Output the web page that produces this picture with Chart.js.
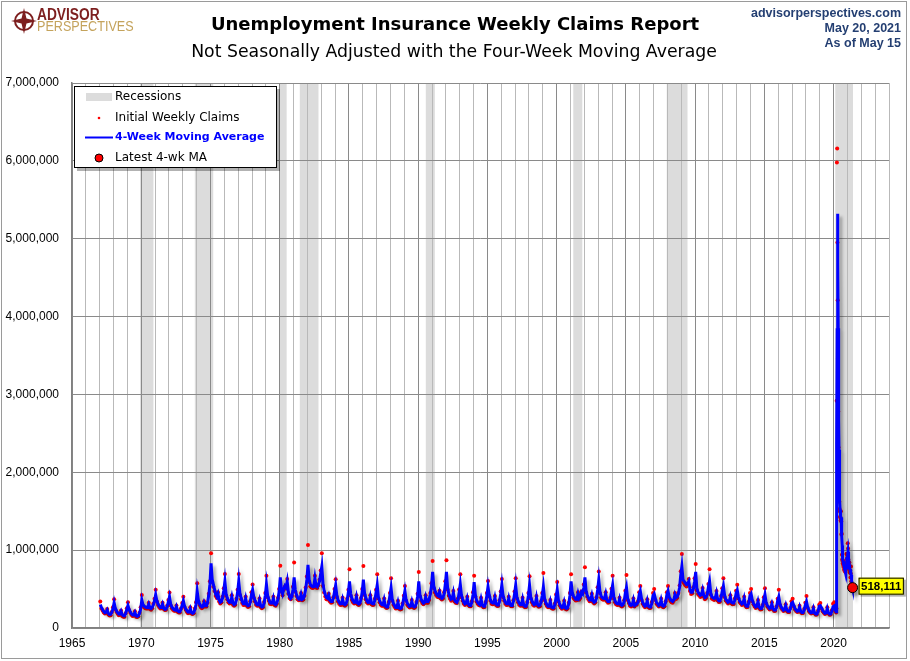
<!DOCTYPE html>
<html>
<head>
<meta charset="utf-8">
<script src="https://cdn.jsdelivr.net/npm/chart.js@4/dist/chart.umd.min.js"></script>
<style>
  body { margin: 0; background: #fff; }
  canvas { display: block; }
</style>
</head>
<body>
<canvas id="claims" width="910" height="661"></canvas>
<script>
// monthly values (thousands), Jan 1967 .. Feb 2020
const firstYear = 1967;
const maMonthly = [
  300,265,235,212,198,205,232,188,175,176,200,248,
  325,255,222,198,180,182,214,170,156,156,186,238,
  290,238,206,182,168,170,202,158,150,158,188,245,
  360,300,280,270,264,262,305,260,250,264,298,350,
  430,352,308,284,265,266,308,258,240,244,274,335,
  400,308,270,250,234,230,274,224,210,210,240,298,
  350,282,246,222,204,204,248,198,190,198,236,305,
  470,358,310,286,270,276,328,290,286,330,420,560,
  830,625,560,500,432,402,440,362,330,340,388,478,
  600,440,388,350,330,332,398,320,300,310,360,458,
  600,448,388,340,310,310,378,300,285,290,330,428,
  490,400,356,318,300,300,358,285,270,276,320,418,
  560,418,370,330,320,322,380,310,300,320,370,468,
  650,490,440,500,540,520,598,460,400,380,400,498,
  650,488,430,390,370,372,430,370,380,420,500,618,
  810,620,560,540,530,532,640,540,530,560,600,700,
  790,570,480,430,390,380,420,360,340,340,380,468,
  550,420,360,330,310,312,370,310,300,310,360,458,
  600,440,380,350,330,332,400,320,310,320,370,468,
  620,450,390,350,330,332,400,320,310,310,360,458,
  550,400,350,320,300,296,360,285,270,270,320,418,
  515,370,320,290,265,266,330,260,250,255,300,388,
  475,365,320,295,275,280,340,280,270,280,320,408,
  600,430,370,340,320,330,398,340,340,370,430,538,
  720,540,480,450,420,410,460,400,380,390,440,558,
  720,520,440,400,370,380,450,360,340,330,360,458,
  560,420,370,330,310,320,380,310,290,290,330,428,
  590,430,360,330,310,300,370,300,280,280,320,418,
  530,428,370,330,320,320,390,310,295,295,340,438,
  555,420,370,330,310,310,380,310,290,290,340,438,
  550,400,350,320,300,300,370,295,280,280,320,418,
  550,400,350,320,300,310,390,300,285,290,330,418,
  530,380,330,300,280,280,340,270,260,260,300,398,
  490,360,310,280,260,270,330,260,250,260,310,418,
  600,460,410,390,370,370,440,380,400,460,440,518,
  650,480,420,390,360,360,420,350,330,340,380,488,
  620,470,410,390,380,380,440,360,340,340,370,468,
  550,400,350,320,310,310,370,300,290,300,340,448,
  520,380,340,300,290,300,360,290,300,310,330,428,
  475,380,330,300,280,290,350,280,270,270,320,418,
  440,380,330,310,290,300,360,290,280,290,330,428,
  475,400,370,350,340,360,430,390,400,440,520,678,
  790,620,600,580,560,570,600,500,460,460,500,598,
  720,510,460,440,420,430,490,420,390,400,430,528,
  600,450,400,390,380,390,450,370,350,350,390,478,
  540,420,370,350,330,340,400,330,320,320,360,448,
  485,400,350,330,310,320,380,300,280,280,320,418,
  440,360,320,290,270,280,340,270,250,250,280,368,
  430,330,290,270,250,260,310,250,230,230,260,348,
  400,310,270,250,230,240,290,230,215,215,245,318,
  330,290,250,230,215,220,270,215,200,200,230,298,
  340,270,230,210,195,200,250,195,180,180,210,278,
  285,260,225,205,190,195,250,195,180,180,215,275,
  285,230
];
const claimsMonthly = [
  340,250,225,200,185,195,245,175,160,165,205,265,
  370,240,210,185,165,170,225,155,145,145,190,255,
  330,230,195,170,155,160,215,145,140,150,195,265,
  425,285,265,255,250,250,325,245,235,255,310,375,
  490,340,295,270,250,255,325,245,230,235,285,360,
  455,290,255,235,220,220,290,210,200,200,250,320,
  400,270,235,210,190,195,265,185,180,190,250,330,
  575,340,295,270,255,265,345,275,275,325,440,600,
  960,590,530,475,410,385,460,340,315,330,400,510,
  695,415,370,330,315,320,420,300,285,300,375,490,
  695,425,370,320,295,300,400,285,270,280,345,460,
  560,390,340,300,285,290,380,270,255,265,335,450,
  670,395,350,310,305,310,400,295,285,310,385,500,
  800,465,420,490,530,510,630,440,385,370,415,530,
  840,465,410,370,355,360,450,355,365,415,520,660,
  1065,590,535,520,515,520,670,520,515,550,620,740,
  960,540,455,405,370,365,440,340,325,330,395,500,
  626,395,340,310,295,300,390,295,285,300,375,490,
  754,415,360,330,315,320,420,305,295,310,385,500,
  797,425,370,330,315,320,420,305,295,300,375,490,
  690,380,330,300,285,285,380,270,258,262,335,450,
  640,350,300,272,252,255,350,248,238,245,315,415,
  540,350,300,278,262,270,360,265,258,270,335,440,
  720,405,350,320,305,320,420,325,325,360,450,575,
  860,510,455,425,400,395,480,380,365,380,460,600,
  870,490,415,375,350,365,475,340,325,320,380,495,
  690,395,350,310,295,310,400,295,278,280,345,460,
  670,405,340,310,295,290,390,285,268,270,335,450,
  605,405,350,310,305,310,410,295,282,285,355,470,
  630,395,350,310,295,300,400,295,278,280,355,470,
  640,380,330,300,285,290,390,280,268,270,335,450,
  665,380,330,300,285,300,410,285,272,280,345,450,
  707,360,310,282,265,270,360,257,248,250,315,430,
  592,340,292,263,247,260,350,247,238,250,325,450,
  690,435,390,370,352,358,460,362,385,470,460,560,
  780,455,400,370,343,348,440,333,315,330,395,525,
  725,445,390,370,362,368,460,343,325,330,385,505,
  670,380,332,304,295,300,390,285,276,290,355,480,
  680,360,322,285,276,290,380,276,310,300,345,460,
  540,360,313,285,266,280,370,266,257,260,335,450,
  500,360,313,294,276,290,380,276,266,280,345,460,
  540,380,350,332,323,350,450,372,390,450,545,730,
  950,590,570,550,532,555,630,475,437,445,525,640,
  822,485,437,418,399,418,515,399,370,385,450,565,
  755,428,380,370,361,378,475,352,333,338,410,510,
  640,399,352,333,314,330,420,314,304,308,378,480,
  555,380,333,314,295,310,400,285,266,270,336,450,
  500,342,304,276,257,270,360,257,238,240,295,395,
  510,314,276,257,238,250,330,238,219,222,275,375,
  490,295,257,238,219,232,305,219,204,207,258,345,
  375,276,238,219,204,212,285,204,190,193,243,325,
  410,257,219,200,185,193,265,185,171,174,222,300,
  320,247,214,195,181,188,265,185,171,174,227,310,
  330,215
];

// weekly values (thousands), week ending Mar 7 2020 .. May 15 2021
const firstWeek = 2020.18;
const claimsWeekly = [
  200,251,2920,5980,6160,4950,4210,3460,2780,2320,2150,1900,1620,1530,1500,1430,
  1420,1380,1500,1370,1200,1210,940,880,860,830,870,800,830,780,750,820,
  740,730,740,720,750,830,790,950,950,890,850,920,1090,1020,880,830,
  800,750,840,720,710,740,650,700,790,600,570,530,480,480,505
];
const maWeekly = [
  210,225,900,2340,3830,5000,5320,4700,3850,3190,2680,2290,2000,1800,1640,1520,
  1470,1430,1430,1420,1360,1320,1180,1060,970,880,860,840,830,820,790,800,
  770,760,760,730,740,760,770,830,880,900,910,910,940,980,980,960,
  900,820,800,780,760,750,710,700,720,680,650,620,540,520,518.111
];

const recessions = [
  [1969.92, 1970.88], [1973.87, 1975.2], [1979.95, 1980.5], [1981.45, 1982.8],
  [1990.55, 1991.2], [2001.2, 2001.85], [2007.95, 2009.45], [2020.12, 2021.4]
];

const FONT = '"DejaVu Sans", sans-serif';
const ARIAL = '"Liberation Sans", Arial, sans-serif';

function monthPoints(vals) {
  return vals.map((v, i) => ({ x: firstYear + (i + 0.5) / 12, y: v * 1000 }));
}
function weekPoints(vals) {
  return vals.map((v, i) => ({ x: firstWeek + i * 7 / 365.25, y: Math.round(v * 1000) }));
}

const maPts = monthPoints(maMonthly).concat(weekPoints(maWeekly));
const claimPts = monthPoints(claimsMonthly).concat(weekPoints(claimsWeekly));
const latest = maPts[maPts.length - 1];

const shading = {
  id: 'shading',
  beforeDraw(chart) {
    const { ctx, chartArea: a, scales: { x } } = chart;
    ctx.save();
    ctx.fillStyle = '#dcdcdc';
    recessions.forEach(([s, e]) => {
      const x0 = x.getPixelForValue(s), x1 = x.getPixelForValue(e);
      ctx.fillRect(x0, a.top, x1 - x0, a.bottom - a.top);
    });
    ctx.restore();
  },
  beforeDatasetDraw(chart, args) {
    if (args.index > 1) return;
    const ctx = chart.ctx;
    ctx.save();
    ctx.shadowColor = 'rgba(0,0,0,0.3)';
    ctx.shadowOffsetX = 3;
    ctx.shadowOffsetY = 3;
    ctx.shadowBlur = 3;
  },
  afterDatasetDraw(chart, args) {
    if (args.index > 1) return;
    chart.ctx.restore();
  }
};

const decorations = {
  id: 'decorations',
  afterDraw(chart) {
    const { ctx, scales: { x, y } } = chart;
    ctx.save();

    // outer frame
    ctx.strokeStyle = '#9a9a9a';
    ctx.lineWidth = 1;
    ctx.strokeRect(1.5, 1.5, 905, 657);

    // titles
    ctx.fillStyle = '#000';
    ctx.textAlign = 'center';
    ctx.textBaseline = 'middle';
    ctx.font = 'bold 18px ' + FONT;
    ctx.fillText('Unemployment Insurance Weekly Claims Report', 455, 25);
    ctx.font = '17.3px ' + FONT;
    ctx.fillText('Not Seasonally Adjusted with the Four-Week Moving Average', 454, 53);

    // top right
    ctx.textAlign = 'right';
    ctx.fillStyle = '#243f72';
    ctx.font = 'bold 12.5px ' + ARIAL;
    ctx.fillText('advisorperspectives.com', 901, 14);
    ctx.fillText('May 20, 2021', 901, 29);
    ctx.fillText('As of May 15', 901, 44);

    // logo
    const cx = 24, cy = 21;
    ctx.strokeStyle = '#7d1f1f';
    ctx.lineWidth = 2;
    ctx.beginPath(); ctx.arc(cx, cy, 9, 0, Math.PI * 2); ctx.stroke();
    ctx.fillStyle = '#7d1f1f';
    ctx.beginPath();
    for (let k = 0; k < 8; k++) {
      const ang = k * Math.PI / 4 - Math.PI / 2;
      const r = k % 2 === 0 ? 13 : 3.5;
      ctx.lineTo(cx + r * Math.cos(ang), cy + r * Math.sin(ang));
    }
    ctx.closePath(); ctx.fill();
    ctx.textAlign = 'left';
    ctx.font = 'bold 16px ' + ARIAL;
    ctx.save(); ctx.translate(37, 16); ctx.scale(0.86, 1);
    ctx.fillText('ADVISOR', 0, 0); ctx.restore();
    ctx.fillStyle = '#c4a35c';
    ctx.font = '15px ' + ARIAL;
    ctx.save(); ctx.translate(37, 27); ctx.scale(0.84, 1);
    ctx.fillText('PERSPECTIVES', 0, 0); ctx.restore();

    // legend
    ctx.fillStyle = 'rgba(0,0,0,0.3)';
    ctx.fillRect(77, 89, 203, 82);
    ctx.fillStyle = '#fff';
    ctx.fillRect(74, 86, 203, 82);
    ctx.strokeStyle = '#000';
    ctx.lineWidth = 1;
    ctx.strokeRect(74.5, 86.5, 202, 81);
    ctx.fillStyle = '#dcdcdc';
    ctx.fillRect(86, 93, 26, 8);
    ctx.fillStyle = '#ff0000';
    ctx.beginPath(); ctx.arc(99, 118, 1.3, 0, Math.PI * 2); ctx.fill();
    ctx.strokeStyle = '#0000ff';
    ctx.lineWidth = 2;
    ctx.beginPath(); ctx.moveTo(85, 137.5); ctx.lineTo(113, 137.5); ctx.stroke();
    ctx.beginPath(); ctx.arc(99, 158, 4, 0, Math.PI * 2);
    ctx.fillStyle = '#ff0000'; ctx.fill();
    ctx.strokeStyle = '#000'; ctx.lineWidth = 1; ctx.stroke();
    ctx.font = '12px ' + FONT;
    ctx.fillStyle = '#000';
    ctx.fillText('Recessions', 115, 97);
    ctx.fillText('Initial Weekly Claims', 115, 118);
    ctx.fillText('Latest 4-wk MA', 115, 158);
    ctx.fillStyle = '#0000ff';
    ctx.font = 'bold 11px ' + FONT;
    ctx.fillText('4-Week Moving Average', 115, 137);

    // latest value label
    const px = x.getPixelForValue(latest.x), py = y.getPixelForValue(latest.y);
    const txt = latest.y.toLocaleString('en-US');
    ctx.font = 'bold 11.5px ' + ARIAL;
    const w = ctx.measureText(txt).width + 5;
    const bx = px + 6, by = py - 10;
    ctx.fillStyle = 'rgba(0,0,0,0.3)';
    ctx.fillRect(bx + 2, by + 2, w, 17);
    ctx.fillStyle = '#ffff00';
    ctx.fillRect(bx, by, w, 17);
    ctx.strokeStyle = '#000';
    ctx.strokeRect(bx + 0.5, by + 0.5, w - 1, 16);
    ctx.fillStyle = '#000';
    ctx.textAlign = 'center';
    ctx.fillText(txt, bx + w / 2, by + 9);

    ctx.restore();
  }
};

new Chart(document.getElementById('claims'), {
  type: 'scatter',
  data: {
    datasets: [{
      label: 'Latest 4-wk MA',
      data: [latest],
      pointRadius: 5,
      backgroundColor: '#ff0000',
      borderColor: '#000',
      borderWidth: 1,
      order: 0
    }, {
      label: '4-Week Moving Average',
      data: maPts,
      showLine: true,
      borderColor: '#0000ff',
      borderWidth: 3,
      pointRadius: 0,
      tension: 0,
      order: 1
    }, {
      label: 'Initial Weekly Claims',
      data: claimPts,
      pointRadius: 2,
      backgroundColor: '#ff0000',
      borderWidth: 0,
      order: 2
    }]
  },
  options: {
    responsive: false,
    animation: false,
    devicePixelRatio: 1,
    layout: { padding: { top: 83, left: 2, right: 21, bottom: 5 } },
    plugins: { legend: { display: false }, tooltip: { enabled: false } },
    scales: {
      x: {
        type: 'linear',
        min: 1965,
        max: 2024,
        afterFit: s => { s.height = 28; },
        afterBuildTicks: s => {
          const t = [];
          for (let v = 1965; v <= 2024; v++) t.push({ value: v });
          s.ticks = t;
        },
        ticks: {
          autoSkip: false,
          maxRotation: 0,
          padding: 8,
          color: '#000',
          font: { family: ARIAL, size: 12 },
          callback: v => (v % 5 === 0 ? String(v) : '')
        },
        grid: {
          drawTicks: false,
          color: c => (c.tick && c.tick.value % 5 === 0 ? '#8a8a8a' : '#b9b9b9')
        },
        border: { color: '#808080', width: 1.5 }
      },
      y: {
        min: 0,
        max: 7000000,
        afterFit: s => { s.width = 70; },
        ticks: {
          stepSize: 1000000,
          padding: 13,
          color: '#000',
          font: { family: ARIAL, size: 12 },
          callback: v => v.toLocaleString('en-US')
        },
        grid: { drawTicks: false, color: '#8a8a8a' },
        border: { color: '#808080', width: 1.5 }
      }
    }
  },
  plugins: [shading, decorations]
});
</script>
</body>
</html>
